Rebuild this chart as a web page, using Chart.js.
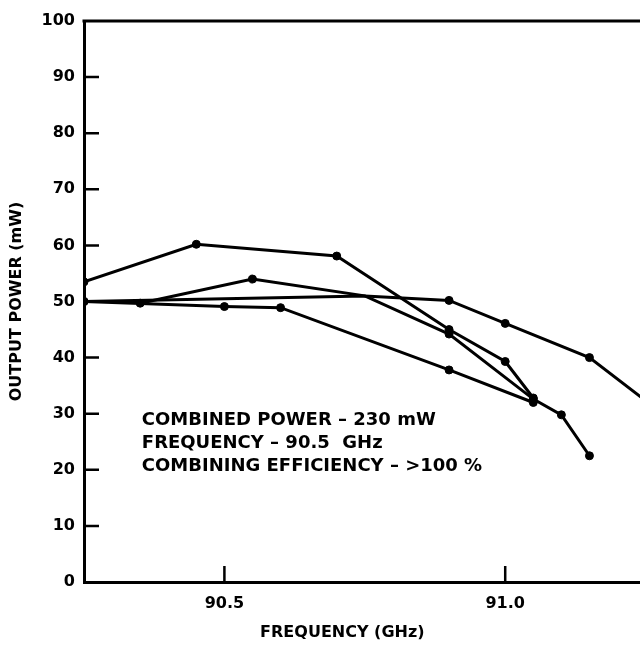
<!DOCTYPE html>
<html>
<head>
<meta charset="utf-8">
<script src="https://cdn.jsdelivr.net/npm/chart.js@4/dist/chart.umd.min.js"></script>
<style>
  html, body { margin: 0; padding: 0; background: #fff; }
  #wrap { width: 640px; height: 646px; }
</style>
</head>
<body>
<div id="wrap"><canvas id="chart"></canvas></div>
<script>
// values (GHz / mW)
const freqA = [90.25, 90.45, 90.7, 90.9, 91.0, 91.05];
const powerA = [53.5, 60.2, 58.1, 45.0, 39.3, 32.8];
const freqB = [90.25, 90.75, 90.9, 91.0, 91.15, 91.25];
const powerB = [50.0, 51.0, 50.2, 46.1, 40.0, 32.3];
const freqC = [90.35, 90.55, 90.75, 90.9, 91.05, 91.1, 91.15];
const powerC = [49.7, 54.0, 51.0, 44.2, 32.6, 29.8, 22.5];
const freqD = [90.25, 90.5, 90.6, 90.9, 91.05];
const powerD = [50.0, 49.1, 48.9, 37.8, 32.0];

const xTicks = [90.5, 91.0];
const notes = [
    'COMBINED POWER \u2013 230 mW',
    'FREQUENCY \u2013 90.5  GHz',
    'COMBINING EFFICIENCY \u2013 >100 %'
];

const FONT = '"DejaVu Sans", sans-serif';

const toPoints = (xs, ys) => xs.map((x, i) => ({ x: x, y: ys[i] }));

const lineSet = (xs, ys) => ({
    data: toPoints(xs, ys),
    borderColor: '#000',
    borderWidth: 3,
    backgroundColor: '#000',
    pointBackgroundColor: '#000',
    pointBorderColor: '#000',
    pointBorderWidth: 1,
    // crossing point at 90.75 has no dot in the original
    pointRadius: (c) => (c.raw && c.raw.x === 90.75 ? 0 : 4),
    tension: 0,
});

// top frame line, inward tick marks, notes and x title
const decorations = {
    id: 'decorations',
    afterDraw(chart) {
        const { ctx, chartArea: a, scales } = chart;
        const x = scales.x, y = scales.y;
        ctx.save();
        ctx.strokeStyle = '#000';
        ctx.lineWidth = 3;
        ctx.beginPath();
        ctx.moveTo(a.left - 1.5, a.top);
        ctx.lineTo(chart.width, a.top);
        ctx.stroke();

        ctx.lineWidth = 2.5;
        ctx.beginPath();
        y.ticks.forEach(t => {
            if (t.value > 0 && t.value < 100) {
                const py = y.getPixelForValue(t.value);
                ctx.moveTo(a.left, py);
                ctx.lineTo(a.left + 15, py);
            }
        });
        xTicks.forEach(v => {
            const px = x.getPixelForValue(v);
            ctx.moveTo(px, a.bottom);
            ctx.lineTo(px, a.bottom - 16);
        });
        ctx.stroke();

        ctx.fillStyle = '#000';
        ctx.font = 'bold 18px ' + FONT;
        ctx.textAlign = 'left';
        ctx.textBaseline = 'alphabetic';
        const nx = x.getPixelForValue(90.353);
        const ny = y.getPixelForValue(28);
        notes.forEach((t, i) => ctx.fillText(t, nx, ny + i * 22.8));

        ctx.font = 'bold 16px ' + FONT;
        ctx.textAlign = 'center';
        ctx.textBaseline = 'middle';
        ctx.fillText('FREQUENCY (GHz)', x.getPixelForValue(90.71), a.bottom + 51);
        ctx.restore();
    }
};

new Chart(document.getElementById('chart'), {
    type: 'line',
    data: {
        datasets: [
            lineSet(freqA, powerA),
            lineSet(freqB, powerB),
            lineSet(freqC, powerC),
            lineSet(freqD, powerD),
        ],
    },
    options: {
        responsive: true,
        maintainAspectRatio: false,
        animation: false,
        layout: {
            autoPadding: false,
            padding: { top: 21, right: 0, bottom: 0, left: 0 },
        },
        plugins: {
            legend: { display: false },
            tooltip: { enabled: false },
        },
        scales: {
            x: {
                type: 'linear',
                min: 90.25,
                max: 91.24,
                afterBuildTicks: (s) => { s.ticks = xTicks.map(v => ({ value: v })); },
                afterFit: (s) => {
                    s.height = 64;
                    s.paddingLeft = 0;
                    s.paddingRight = 0;
                },
                grid: { display: false, drawTicks: false },
                border: { display: true, color: '#000', width: 3 },
                ticks: {
                    color: '#000',
                    padding: 12,
                    maxRotation: 0,
                    font: { family: FONT, size: 16, weight: 'bold' },
                    callback: (v) => Number(v).toFixed(1),
                },
            },
            y: {
                min: 0,
                max: 100,
                afterFit: (s) => { s.width = 84; },
                grid: { display: false, drawTicks: false },
                border: { display: true, color: '#000', width: 3 },
                ticks: {
                    stepSize: 10,
                    color: '#000',
                    padding: 9,
                    font: { family: FONT, size: 16, weight: 'bold' },
                },
                title: {
                    display: true,
                    text: 'OUTPUT POWER (mW)',
                    color: '#000',
                    padding: { top: 7, bottom: 0 },
                    font: { family: FONT, size: 16, weight: 'bold' },
                },
            },
        },
    },
    plugins: [decorations],
});
</script>
</body>
</html>
